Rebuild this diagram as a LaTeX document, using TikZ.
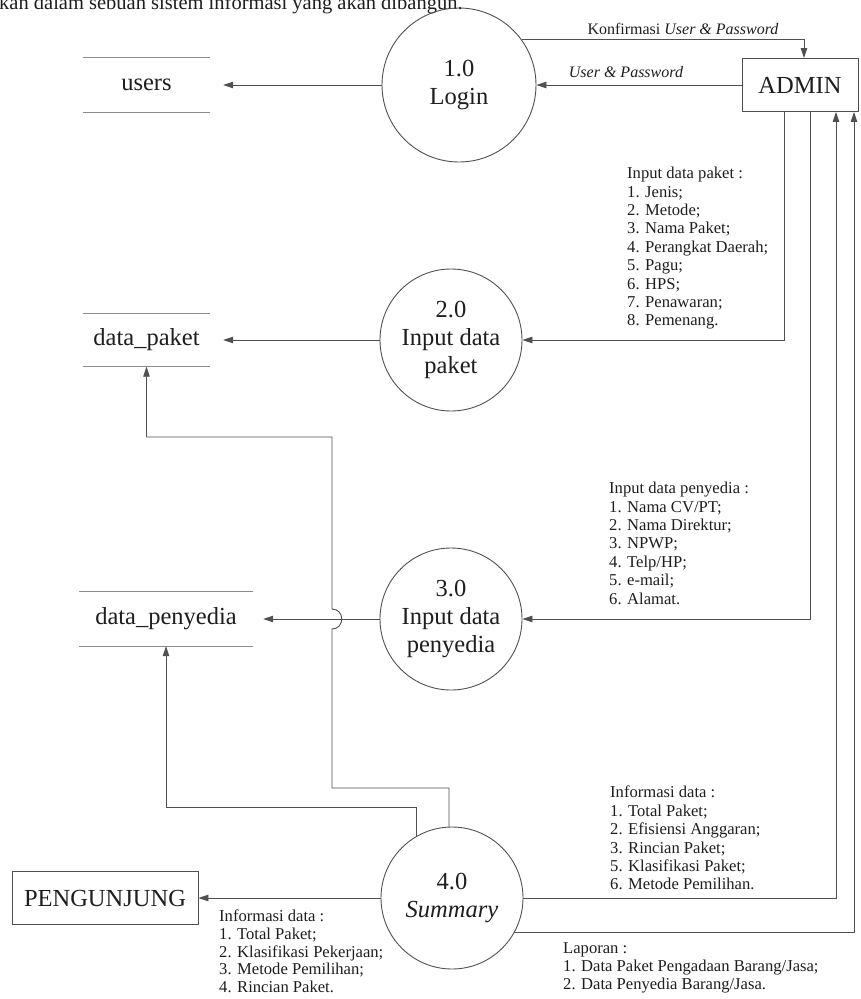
\documentclass[tikz,border=0pt]{standalone}
\usepackage{fontspec}
\setmainfont{Liberation Serif}
\usetikzlibrary{arrows.meta}
\definecolor{ink}{HTML}{1E1E1E}
\definecolor{wire}{HTML}{505050}
\definecolor{rule}{HTML}{8C8C8C}
\begin{document}
\begin{tikzpicture}[
  x=1pt, y=-1pt,
  bigfont/.style={font=\fontsize{24.5}{28}\selectfont},
  proc/.style={circle, draw=wire, line width=0.9pt, minimum size=142pt, inner sep=0pt, align=center, text=ink, bigfont},
  ext/.style={rectangle, draw=wire, line width=0.9pt, inner sep=0pt, text=ink, bigfont},
  store/.style={inner sep=0pt, text=ink, bigfont},
  storeline/.style={draw=rule, line width=1.2pt},
  flow/.style={draw=wire, line width=0.9pt, -{Triangle[length=10pt,width=6.5pt]}},
  note/.style={inner sep=0pt, anchor=north west, align=left, text=ink, font=\fontsize{16.6}{18.4}\selectfont},
  tag/.style={inner sep=0pt, text=ink, font=\fontsize{16}{18}\selectfont},
]
\useasboundingbox[fill=white] (0,0) rectangle (861,999);

% running text line above the diagram
\node[anchor=base west, inner sep=0pt, text=ink, font=\fontsize{20.5}{24}\selectfont] (head) at (-1,9.5)
  {kan dalam sebuah sistem informasi yang akan dibangun.};

% processes
\node[proc, minimum size=154pt] (p1) at (459,85) {1.0\\Login};
\node[proc] (p2) at (451,340) {2.0\\Input data\\paket};
\node[proc] (p3) at (451,619) {3.0\\Input data\\penyedia};
\node[proc] (p4) at (452,898) {4.0\\\textit{Summary}};

% external entities
\node[ext, minimum width=116pt, minimum height=53pt] (admin) at (800,85) {ADMIN};
\node[ext, minimum width=186pt, minimum height=53pt] (peng) at (105,898) {PENGUNJUNG};

% data stores
\node[store, minimum width=127pt, minimum height=55pt] (users) at (146.5,85) {users};
\node[store, minimum width=127pt, minimum height=53pt] (dpaket) at (146.5,340) {data\_paket};
\node[store, minimum width=174pt, minimum height=54pt] (dpeny) at (166,619) {data\_penyedia};
\foreach \s in {users,dpaket,dpeny}{
  \draw[storeline] (\s.north west) -- (\s.north east);
  \draw[storeline] (\s.south west) -- (\s.south east);
}

% flows between admin and processes
\draw[flow] (admin) -- (p1);
\draw[flow] (p1.36) -| ([xshift=4pt]admin.north);
\draw[flow] ([xshift=-16pt]admin.south) |- (p2);
\draw[flow] ([xshift=10pt]admin.south) |- (p3);
\draw[flow] (p4) -| ([xshift=36pt]admin.south);
\draw[flow] (p4.-29.5) -| ([xshift=54pt]admin.south);

% flows into data stores
\draw[flow, shorten >=13pt] (p1) -- (users);
\draw[flow, shorten >=13pt] (p2) -- (dpaket);
\draw[flow, shorten >=10pt] (p3) -- (dpeny);
\draw[flow] (p4) -- (peng);

% summary reads data_paket, hopping over the data_penyedia flow
\coordinate (k1) at (332,788);
\coordinate (h1) at (332,629);
\coordinate (h2) at (332,609);
\coordinate (k2) at (332,437);
\coordinate (t1) at (449,800);
\draw[flow] (p4.north -| t1) |- (k1) -- (h1)
  .. controls ([xshift=13pt]h1) and ([xshift=13pt]h2) .. (h2)
  -- (k2) -| (dpaket.south);

% summary reads data_penyedia
\coordinate (k3) at (417,807);
\draw[flow] (p4.120) |- (dpeny.south |- k3) -- (dpeny.south);

% flow labels
\node[tag] (lk) at (683,29) {Konfirmasi \textit{User \& Password}};
\node[tag] (lu) at (626,72) {\textit{User \& Password}};

\node[note] (n2) at (627,167) {Input data paket :\\1. Jenis;\\2. Metode;\\3. Nama Paket;\\4. Perangkat Daerah;\\5. Pagu;\\6. HPS;\\7. Penawaran;\\8. Pemenang.};
\node[note] (n3) at (609,482) {Input data penyedia :\\1. Nama CV/PT;\\2. Nama Direktur;\\3. NPWP;\\4. Telp/HP;\\5. e-mail;\\6. Alamat.};
\node[note] (n4) at (610,786) {Informasi data :\\1. Total Paket;\\2. Efisiensi Anggaran;\\3. Rincian Paket;\\5. Klasifikasi Paket;\\6. Metode Pemilihan.};
\node[note, font=\fontsize{16.6}{18}\selectfont] (n5) at (563,942) {Laporan :\\1. Data Paket Pengadaan Barang/Jasa;\\2. Data Penyedia Barang/Jasa.};
\node[note, font=\fontsize{16.6}{17.6}\selectfont] (n6) at (219,910) {Informasi data :\\1. Total Paket;\\2. Klasifikasi Pekerjaan;\\3. Metode Pemilihan;\\4. Rincian Paket.};
\end{tikzpicture}
\end{document}
